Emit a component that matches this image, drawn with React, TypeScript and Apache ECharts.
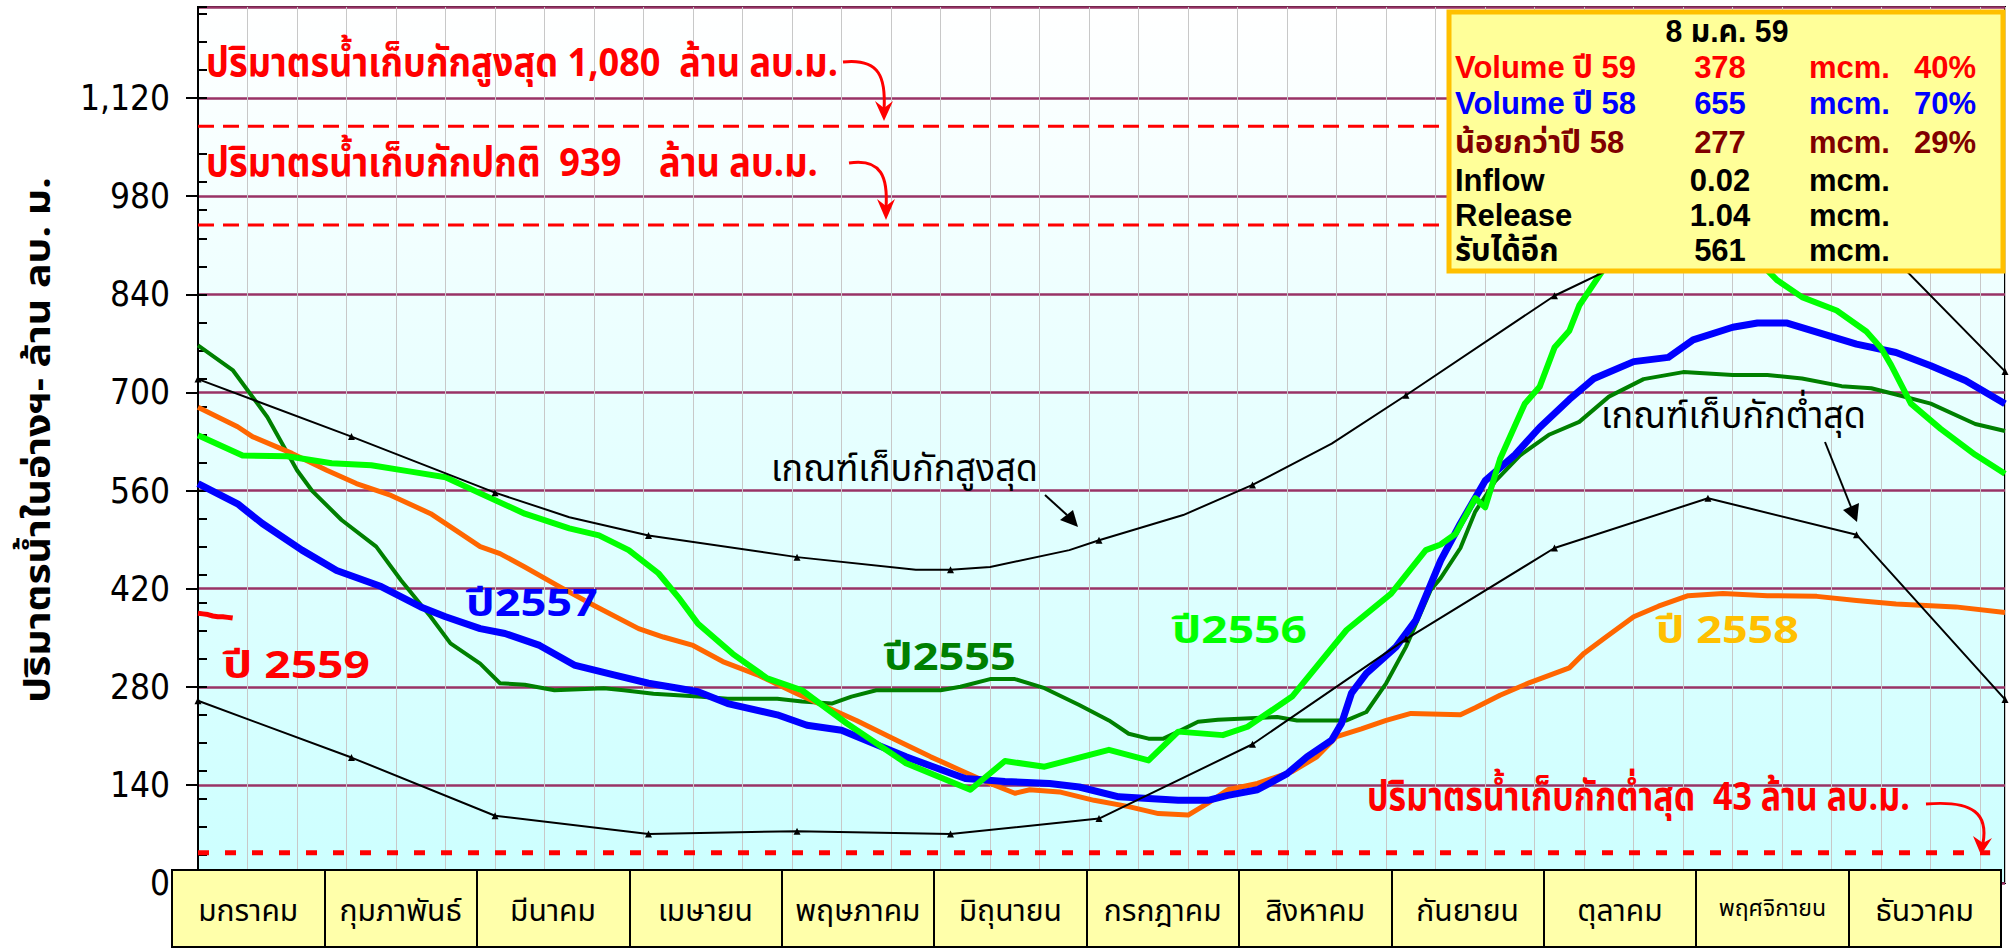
import React, { useEffect, useRef } from 'react';
import * as echarts from 'echarts';

// ---------------- data ----------------
const months = ['มกราคม', 'กุมภาพันธ์', 'มีนาคม', 'เมษายน', 'พฤษภาคม', 'มิถุนายน', 'กรกฎาคม', 'สิงหาคม', 'กันยายน', 'ตุลาคม', 'พฤศจิกายน', 'ธันวาคม'];
const monthStartDays = [0, 31, 60, 91, 121, 152, 182, 213, 244, 274, 305, 335, 365];

const year2559 = [[0, 385], [1, 384], [2, 383], [3, 381], [4, 380], [5, 380], [6, 379], [7, 378]];
const year2558 = [[0, 679], [8, 651], [11, 637], [19, 613], [26, 589], [32, 570], [39, 553], [47, 527], [53, 499], [57, 480], [61, 470], [66, 451], [73, 423], [80, 396], [89, 363], [94, 351], [100, 339], [106, 316], [113, 297], [121, 270], [133, 232], [141, 204], [148, 180], [154, 161], [160, 142], [165, 128], [168, 133], [174, 130], [181, 118], [188, 109], [194, 99], [200, 97], [204, 114], [208, 133], [214, 142], [221, 159], [226, 180], [230, 209], [235, 220], [240, 232], [245, 242], [255, 240], [258, 250], [263, 268], [269, 286], [277, 307], [280, 328], [284, 349], [290, 380], [295, 395], [301, 410], [308, 413], [317, 410], [327, 409], [335, 403], [343, 398], [355, 394], [365, 386]];
const year2557 = [[0, 570], [8, 541], [13, 513], [21, 475], [28, 446], [37, 423], [45, 394], [50, 380], [57, 363], [62, 356], [69, 339], [76, 311], [84, 297], [91, 285], [97, 278], [101, 273], [107, 256], [117, 240], [123, 225], [130, 218], [143, 180], [155, 149], [163, 145], [172, 142], [178, 137], [186, 123], [198, 118], [204, 118], [208, 125], [214, 133], [220, 156], [224, 180], [229, 204], [231, 228], [233, 271], [236, 299], [242, 337], [246, 375], [251, 460], [255, 513], [260, 574], [266, 611], [271, 650], [277, 690], [282, 720], [290, 744], [297, 750], [302, 775], [310, 793], [315, 799], [321, 799], [328, 784], [335, 769], [343, 757], [350, 738], [357, 717], [365, 684]];
const year2556 = [[0, 639], [9, 610], [18, 609], [27, 599], [35, 596], [43, 587], [50, 579], [57, 556], [66, 527], [75, 506], [81, 496], [87, 475], [93, 442], [97, 408], [101, 370], [108, 327], [115, 292], [122, 275], [131, 228], [143, 171], [156, 133], [163, 174], [171, 166], [184, 190], [192, 175], [198, 216], [207, 211], [212, 223], [221, 266], [232, 361], [241, 413], [248, 475], [251, 483], [254, 498], [258, 549], [260, 536], [263, 605], [268, 684], [271, 708], [274, 764], [277, 788], [279, 824], [290, 940], [305, 960], [319, 860], [324, 836], [331, 817], [337, 787], [340, 763], [342, 739], [346, 684], [352, 648], [359, 611], [365, 584]];
const year2555 = [[0, 767], [7, 732], [14, 665], [20, 589], [23, 560], [29, 518], [36, 480], [41, 432], [47, 380], [51, 342], [57, 313], [61, 285], [66, 283], [72, 275], [82, 278], [86, 275], [92, 270], [101, 266], [107, 263], [117, 263], [122, 259], [128, 256], [132, 266], [137, 275], [150, 275], [154, 280], [160, 291], [165, 291], [171, 278], [178, 254], [184, 232], [188, 213], [192, 206], [195, 206], [198, 216], [202, 230], [206, 233], [218, 237], [222, 232], [232, 232], [236, 244], [240, 285], [244, 337], [249, 418], [251, 435], [255, 478], [258, 530], [262, 573], [267, 610], [273, 640], [279, 658], [285, 694], [292, 719], [300, 729], [310, 725], [317, 725], [324, 720], [332, 709], [338, 706], [343, 697], [350, 684], [359, 655], [365, 645]];
const upperRule = [[0, 719], [31, 637], [60, 557], [75, 522], [91, 496], [121, 465], [145, 447], [152, 447], [160, 451], [176, 475], [182, 489], [199, 525], [213, 568], [229, 627], [244, 696], [274, 838], [305, 943], [335, 946], [365, 730]];
const lowerRule = [[0, 260], [31, 179], [60, 96], [91, 70], [121, 74], [152, 70], [182, 92], [213, 198], [244, 348], [274, 478], [305, 549], [335, 497], [365, 262]];

const maxStorage = 1080;
const normalStorage = 939;
const minStorage = 43;

const infoTitle = '8 ม.ค. 59';
const infoLabels = ['Volume ปี 59', 'Volume ปี 58', 'น้อยกว่าปี 58', 'Inflow', 'Release', 'รับได้อีก'];
const infoValues = ['378', '655', '277', '0.02', '1.04', '561'];
const infoUnits = ['mcm.', 'mcm.', 'mcm.', 'mcm.', 'mcm.', 'mcm.'];
const infoPercents = ['40%', '70%', '29%', '', '', ''];

// ---------------- styles ----------------
const THAI = "'Noto Sans Thai','Noto Sans Thai UI','Loma','Garuda','Tlwg Typo','Noto Sans',sans-serif";
const NARROW = "'Liberation Sans Narrow','Arial Narrow','DejaVu Sans Condensed',sans-serif";
const ARIAL = "'Liberation Sans',Arial," + THAI;

function measure(text: string, font: string): number {
  const ctx = document.createElement('canvas').getContext('2d')!;
  ctx.font = font;
  return ctx.measureText(text).width || 1;
}

function fitText(text: string, x: number, y: number, w: number, font: string, fill: string, align = 'left', rotation = 0, z = 60) {
  return {
    type: 'text', x, y, rotation, scaleX: w / measure(text, font), z,
    style: { text, x: 0, y: 0, font, fill, textAlign: align, textVerticalAlign: 'middle', align, verticalAlign: 'middle' },
  };
}

function plainText(text: string, x: number, y: number, font: string, fill: string, align = 'left') {
  return {
    type: 'text', z: 101,
    style: { text, x, y, font, fill, textAlign: align, textVerticalAlign: 'middle', align, verticalAlign: 'middle' },
  };
}

function buildOption() {
  const withMarkers = (pts: number[][]) =>
    pts.map(([d, v]) => (monthStartDays.includes(d) ? { value: [d, v] } : { value: [d, v], symbol: 'none' }));

  const line = (name: string, data: number[][], color: string, width: number, z: number) => ({
    type: 'line', name, data, xAxisIndex: 0, yAxisIndex: 0, symbol: 'none', silent: true, z,
    lineStyle: { color, width, join: 'round' },
  });

  const ruleSeries = (name: string, data: number[][]) => ({
    type: 'line', name, data: withMarkers(data), xAxisIndex: 0, yAxisIndex: 0, silent: true, z: 8,
    symbol: 'triangle', symbolSize: 7, showAllSymbol: true,
    itemStyle: { color: '#000' }, lineStyle: { color: '#000', width: 2 },
  });

  const refLine = (v: number, end: number, width: number, dash: number[]) => ({
    type: 'line', data: [[0, v], [end, v]], xAxisIndex: 0, yAxisIndex: 0, symbol: 'none', silent: true, z: 3,
    lineStyle: { color: '#FF0000', width, type: dash },
  });

  const redBold = `bold 40px ${THAI}`;
  const rowY = [67, 103, 142, 180, 215, 250];
  const rowColor = ['#FF0000', '#0000FF', '#800000', '#000', '#000', '#000'];
  const infoFont = `bold 31px ${ARIAL}`;

  const infoChildren: any[] = [
    { type: 'rect', z: 100, shape: { x: 1449, y: 12, width: 554, height: 259 }, style: { fill: '#FFFF99', stroke: '#FFC000', lineWidth: 5 } },
    fitText(infoTitle, 1727, 31, 123, infoFont, '#000', 'center', 0, 101),
  ];
  infoLabels.forEach((lab, i) => {
    infoChildren.push(plainText(lab, 1455, rowY[i], infoFont, rowColor[i], 'left'));
    infoChildren.push(plainText(infoValues[i], 1720, rowY[i], infoFont, rowColor[i], 'center'));
    infoChildren.push(plainText(infoUnits[i], 1809, rowY[i], infoFont, rowColor[i], 'left'));
    if (infoPercents[i]) infoChildren.push(plainText(infoPercents[i], 1914, rowY[i], infoFont, rowColor[i], 'left'));
  });

  const arrowStroke = (color: string, w: number) => ({ stroke: color, lineWidth: w, fill: null });

  const graphic: any[] = [
    fitText('ปริมาตรน้ำในอ่างฯ- ล้าน ลบ. ม.', 39, 440, 526, `bold 36px ${THAI}`, '#000', 'center', Math.PI / 2),
    fitText(`ปริมาตรน้ำเก็บกักสูงสุด ${maxStorage.toLocaleString('en-US')}  ล้าน ลบ.ม.`, 206, 64, 632, redBold, '#FF0000'),
    fitText(`ปริมาตรน้ำเก็บกักปกติ  ${normalStorage}    ล้าน ลบ.ม.`, 206, 164, 612, redBold, '#FF0000'),
    fitText(`ปริมาตรน้ำเก็บกักต่ำสุด  ${minStorage} ล้าน ลบ.ม.`, 1367, 798, 543, redBold, '#FF0000'),
    fitText('เกณฑ์เก็บกักสูงสุด', 771, 470, 267, `38px ${THAI}`, '#000'),
    fitText('เกณฑ์เก็บกักต่ำสุด', 1601, 417, 265, `38px ${THAI}`, '#000'),
    fitText('ปี 2559', 223, 666, 147, `bold 38px ${THAI}`, '#FF0000'),
    fitText('ปี2557', 466, 605, 132, `bold 38px ${THAI}`, '#0000FF'),
    fitText('ปี2555', 884, 659, 132, `bold 38px ${THAI}`, '#008000'),
    fitText('ปี2556', 1172, 631, 135, `bold 38px ${THAI}`, '#00FF00'),
    fitText('ปี 2558', 1656, 632, 143, `bold 38px ${THAI}`, '#FFC000'),
    // curved arrows
    { type: 'bezierCurve', z: 60, shape: { x1: 843, y1: 62, cpx1: 880, cpy1: 58, cpx2: 886, cpy2: 78, x2: 884, y2: 110 }, style: arrowStroke('#FF0000', 3) },
    { type: 'polygon', z: 60, shape: { points: [[875, 101], [884, 121], [893, 101], [884, 108]] }, style: { fill: '#FF0000' } },
    { type: 'bezierCurve', z: 60, shape: { x1: 849, y1: 163, cpx1: 882, cpy1: 158, cpx2: 888, cpy2: 178, x2: 886, y2: 208 }, style: arrowStroke('#FF0000', 3) },
    { type: 'polygon', z: 60, shape: { points: [[877, 199], [886, 220], [895, 199], [886, 206]] }, style: { fill: '#FF0000' } },
    { type: 'bezierCurve', z: 60, shape: { x1: 1926, y1: 804, cpx1: 1975, cpy1: 800, cpx2: 1988, cpy2: 815, x2: 1983, y2: 843 }, style: arrowStroke('#FF0000', 3) },
    { type: 'polygon', z: 60, shape: { points: [[1973, 836], [1981, 855], [1992, 838], [1983, 843]] }, style: { fill: '#FF0000' } },
    { type: 'line', z: 60, shape: { x1: 1045, y1: 495, x2: 1067, y2: 515 }, style: { stroke: '#000', lineWidth: 2 } },
    { type: 'polygon', z: 60, shape: { points: [[1078, 527], [1060, 520], [1073, 510]] }, style: { fill: '#000' } },
    { type: 'line', z: 60, shape: { x1: 1825, y1: 442, x2: 1851, y2: 507 }, style: { stroke: '#000', lineWidth: 2 } },
    { type: 'polygon', z: 60, shape: { points: [[1857, 522], [1843, 510], [1859, 503]] }, style: { fill: '#000' } },
    { type: 'group', z: 100, children: infoChildren },
  ];

  return {
    animation: false,
    backgroundColor: '#FFFFFF',
    grid: [
      {
        left: 198, top: 7, width: 1807, height: 876, show: true, z: 0,
        backgroundColor: { type: 'linear', x: 0, y: 0, x2: 0, y2: 1, colorStops: [{ offset: 0, color: '#FFFFFF' }, { offset: 1, color: '#CCFFFF' }] },
        borderColor: '#000', borderWidth: 2,
      },
      { left: 172, top: 870, width: 1829, height: 77, show: true, z: 5, backgroundColor: '#FFFFAA', borderColor: '#000', borderWidth: 2 },
      { left: 198, top: 7, width: 1807, height: 876, show: false },
    ],
    xAxis: [
      {
        type: 'value', gridIndex: 0, min: 0, max: 365, interval: 10,
        axisLine: { show: false }, axisTick: { show: false }, axisLabel: { show: false },
        splitLine: { show: true, lineStyle: { color: '#C8C8C8', width: 1 } },
      },
      {
        type: 'category', gridIndex: 1, data: months, position: 'bottom', z: 6,
        axisLine: { show: false }, axisTick: { show: false },
        splitLine: { show: true, lineStyle: { color: '#000', width: 2 } },
        axisLabel: {
          margin: -50, fontSize: 30, color: '#000', fontFamily: THAI, interval: 0,
          formatter: (v: string, i: number) => (i === 10 ? `{s|${v}}` : v),
          rich: { s: { fontSize: 23, fontFamily: THAI, color: '#000' } },
        },
      },
      { type: 'value', gridIndex: 2, min: 0, max: 365, show: false },
    ],
    yAxis: [
      {
        type: 'value', gridIndex: 0, min: 0, max: 1250, interval: 140,
        axisLine: { show: true, lineStyle: { color: '#000', width: 2 } },
        axisTick: { show: true, length: 12, lineStyle: { color: '#000', width: 2 } },
        axisLabel: {
          fontSize: 35, fontFamily: NARROW, color: '#000', margin: 28, showMaxLabel: false,
          formatter: (v: number) => v.toLocaleString('en-US'),
        },
        splitLine: { show: true, lineStyle: { color: '#993366', width: 2.5 } },
      },
      { type: 'value', gridIndex: 1, show: false },
      {
        type: 'value', gridIndex: 2, min: 0, max: 1250, interval: 40,
        axisLine: { show: false }, axisLabel: { show: false }, splitLine: { show: false },
        axisTick: { show: true, inside: true, length: 9, lineStyle: { color: '#000', width: 2 } },
      },
    ],
    series: [
      refLine(maxStorage, 365, 3, [16, 9]),
      refLine(normalStorage, 365, 3, [16, 9]),
      refLine(minStorage, 362, 5, [11, 16]),
      line('ปี 2555', year2555, '#008000', 4, 4),
      line('ปี 2558', year2558, '#FF6600', 5, 5),
      line('ปี 2557', year2557, '#0000FF', 7, 6),
      line('ปี 2556', year2556, '#00FF00', 6, 7),
      line('ปี 2559', year2559, '#FF0000', 5, 7),
      ruleSeries('เกณฑ์เก็บกักสูงสุด', upperRule),
      ruleSeries('เกณฑ์เก็บกักต่ำสุด', lowerRule),
    ],
    graphic,
  };
}

export default function App() {
  const ref = useRef<HTMLDivElement>(null);
  useEffect(() => {
    document.body.style.margin = '0';
    const chart = echarts.init(ref.current!, undefined, { renderer: 'svg' });
    chart.setOption(buildOption() as any);
    return () => chart.dispose();
  }, []);
  return <div ref={ref} style={{ width: 2009, height: 948 }} />;
}
